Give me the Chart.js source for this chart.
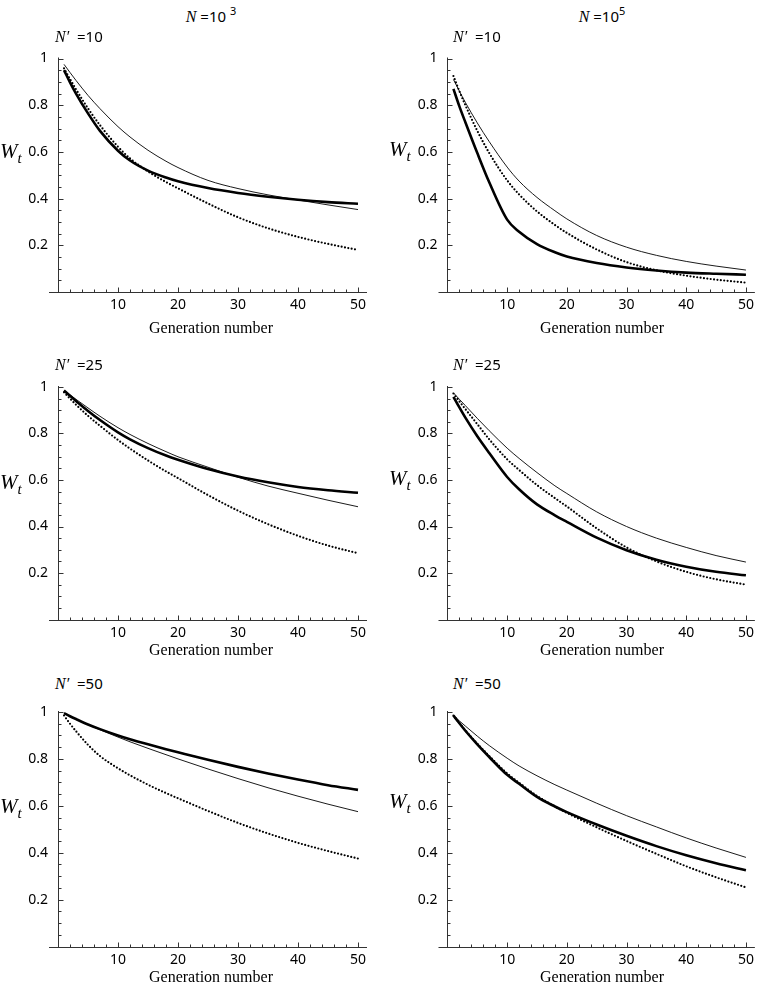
<!DOCTYPE html>
<html lang="en">
<head>
<meta charset="UTF-8">
<title>W_t by generation</title>
<style>
  body { margin: 0; background: #fff; font-family: "Noto Sans", sans-serif; }
  #page { position: relative; width: 759px; height: 989px; overflow: hidden; }
  canvas { position: absolute; }
  .lbl { position: absolute; white-space: nowrap; color: #000; z-index: 2; }
  .gen { font-family: "Liberation Serif", serif; font-size: 16px; transform: translate(-50%, -50%); }
  .np { font-size: 15px; transform: translateY(-50%); }
  .it { font-family: "Liberation Serif", serif; font-style: italic; font-size: 16px; }
  .wt { font-family: "Liberation Serif", serif; font-style: italic; font-size: 21px; transform: translateY(-50%); }
  .wt sub { font-size: 15px; vertical-align: -5px; }
  .head { font-size: 15px; transform: translate(-50%, -50%); }
  .head sup { font-size: 11px; vertical-align: 7px; }
</style>
<script src="https://cdn.jsdelivr.net/npm/chart.js"></script>
</head>
<body>
<div id="page">
  <div class="lbl head" style="left:211px; top:14px;"><span class="it">N</span> =10 <sup>3</sup></div>
  <div class="lbl head" style="left:602px; top:14px;"><span class="it">N</span> =10<sup>5</sup></div>

  <div class="lbl np" style="left:55px; top:36px;"><span class="it">N′</span>&nbsp;&nbsp;=10</div>
  <div class="lbl np" style="left:453px; top:36px;"><span class="it">N′</span>&nbsp;&nbsp;=10</div>
  <div class="lbl np" style="left:55px; top:364px;"><span class="it">N′</span>&nbsp;&nbsp;=25</div>
  <div class="lbl np" style="left:453px; top:364px;"><span class="it">N′</span>&nbsp;&nbsp;=25</div>
  <div class="lbl np" style="left:55px; top:683px;"><span class="it">N′</span>&nbsp;&nbsp;=50</div>
  <div class="lbl np" style="left:453px; top:683px;"><span class="it">N′</span>&nbsp;&nbsp;=50</div>

  <div class="lbl wt" style="left:0px; top:153px;">W<sub>t</sub></div>
  <div class="lbl wt" style="left:389px; top:151px;">W<sub>t</sub></div>
  <div class="lbl wt" style="left:0px; top:484px;">W<sub>t</sub></div>
  <div class="lbl wt" style="left:389px; top:480px;">W<sub>t</sub></div>
  <div class="lbl wt" style="left:0px; top:808px;">W<sub>t</sub></div>
  <div class="lbl wt" style="left:389px; top:803px;">W<sub>t</sub></div>

  <div class="lbl gen" style="left:211px; top:328px;">Generation number</div>
  <div class="lbl gen" style="left:602px; top:328px;">Generation number</div>
  <div class="lbl gen" style="left:211px; top:650px;">Generation number</div>
  <div class="lbl gen" style="left:602px; top:650px;">Generation number</div>
  <div class="lbl gen" style="left:211px; top:977px;">Generation number</div>
  <div class="lbl gen" style="left:602px; top:977px;">Generation number</div>
</div>

<script>
  // x values shared by every curve
  const generations = [1, 2, 3, 5, 7, 10, 12, 15, 18, 20, 25, 30, 35, 40, 45, 50];
  const xTicks = [10, 20, 30, 40, 50];
  const yTicks = [0.2, 0.4, 0.6, 0.8, 1];

  // N = 10^3, N' = 10
  const n3_10_thick  = [0.95, 0.898, 0.85, 0.765, 0.69, 0.605, 0.563, 0.52, 0.49, 0.474, 0.445, 0.424, 0.408, 0.395, 0.385, 0.378];
  const n3_10_thin   = [0.975, 0.94, 0.906, 0.842, 0.785, 0.708, 0.664, 0.607, 0.56, 0.533, 0.478, 0.443, 0.416, 0.394, 0.373, 0.353];
  const n3_10_dotted = [0.958, 0.912, 0.868, 0.786, 0.714, 0.622, 0.572, 0.516, 0.471, 0.444, 0.379, 0.32, 0.273, 0.236, 0.206, 0.18];
  // N = 10^5, N' = 10
  const n5_10_thick  = [0.87, 0.795, 0.727, 0.595, 0.47, 0.31, 0.258, 0.205, 0.17, 0.152, 0.124, 0.105, 0.092, 0.083, 0.078, 0.074];
  const n5_10_thin   = [0.91, 0.86, 0.812, 0.724, 0.644, 0.535, 0.475, 0.405, 0.348, 0.313, 0.242, 0.192, 0.157, 0.131, 0.111, 0.094];
  const n5_10_dotted = [0.925, 0.86, 0.80, 0.69, 0.595, 0.478, 0.418, 0.345, 0.287, 0.253, 0.182, 0.128, 0.093, 0.07, 0.053, 0.04];
  // N = 10^3, N' = 25
  const n3_25_thick  = [0.985, 0.962, 0.94, 0.897, 0.858, 0.805, 0.775, 0.737, 0.705, 0.687, 0.647, 0.615, 0.59, 0.57, 0.556, 0.545];
  const n3_25_thin   = [0.985, 0.966, 0.947, 0.91, 0.874, 0.825, 0.796, 0.757, 0.722, 0.70, 0.655, 0.612, 0.574, 0.543, 0.513, 0.485];
  const n3_25_dotted = [0.977, 0.95, 0.924, 0.876, 0.833, 0.772, 0.735, 0.684, 0.637, 0.608, 0.535, 0.468, 0.41, 0.36, 0.318, 0.285];
  // N = 10^5, N' = 25
  const n5_25_thick  = [0.958, 0.912, 0.868, 0.788, 0.716, 0.613, 0.56, 0.495, 0.448, 0.42, 0.352, 0.298, 0.257, 0.227, 0.205, 0.19];
  const n5_25_thin   = [0.975, 0.947, 0.92, 0.865, 0.812, 0.737, 0.693, 0.632, 0.575, 0.542, 0.463, 0.40, 0.35, 0.31, 0.275, 0.247];
  const n5_25_dotted = [0.972, 0.938, 0.905, 0.84, 0.775, 0.689, 0.643, 0.578, 0.522, 0.486, 0.392, 0.31, 0.25, 0.205, 0.173, 0.15];
  // N = 10^3, N' = 50
  const n3_50_thick  = [0.995, 0.982, 0.97, 0.947, 0.927, 0.90, 0.884, 0.862, 0.841, 0.828, 0.796, 0.766, 0.738, 0.712, 0.688, 0.668];
  const n3_50_thin   = [0.995, 0.982, 0.97, 0.946, 0.924, 0.893, 0.873, 0.845, 0.818, 0.80, 0.757, 0.716, 0.677, 0.641, 0.607, 0.575];
  const n3_50_dotted = [0.985, 0.95, 0.918, 0.86, 0.812, 0.76, 0.73, 0.69, 0.654, 0.632, 0.578, 0.527, 0.482, 0.442, 0.407, 0.375];
  // N = 10^5, N' = 50
  const n5_50_thick  = [0.985, 0.952, 0.92, 0.862, 0.808, 0.732, 0.694, 0.638, 0.597, 0.573, 0.52, 0.472, 0.428, 0.389, 0.355, 0.325];
  const n5_50_thin   = [0.985, 0.962, 0.94, 0.897, 0.857, 0.803, 0.77, 0.728, 0.69, 0.667, 0.611, 0.558, 0.51, 0.463, 0.42, 0.38];
  const n5_50_dotted = [0.985, 0.953, 0.922, 0.865, 0.812, 0.738, 0.698, 0.642, 0.597, 0.57, 0.508, 0.45, 0.395, 0.342, 0.295, 0.252];

  // canvas placement; chart area is pinned with afterFit + layout padding
  const cols = [
    { x: 0,   w: 380, yAxisW: 49,   padRight: 13 },
    { x: 380, w: 379, yAxisW: 58.5, padRight: 2 }
  ];
  const rows = [
    { y: 40,  h: 290, padTop: 18.5, xAxisH: 38 },
    { y: 370, h: 280, padTop: 17,   xAxisH: 30.5 },
    { y: 695, h: 280, padTop: 17,   xAxisH: 28.5 }
  ];

  const panels = [
    { col: 0, row: 0, thick: n3_10_thick, thin: n3_10_thin, dotted: n3_10_dotted },
    { col: 1, row: 0, thick: n5_10_thick, thin: n5_10_thin, dotted: n5_10_dotted },
    { col: 0, row: 1, thick: n3_25_thick, thin: n3_25_thin, dotted: n3_25_dotted },
    { col: 1, row: 1, thick: n5_25_thick, thin: n5_25_thin, dotted: n5_25_dotted },
    { col: 0, row: 2, thick: n3_50_thick, thin: n3_50_thin, dotted: n3_50_dotted },
    { col: 1, row: 2, thick: n5_50_thick, thin: n5_50_thin, dotted: n5_50_dotted }
  ];

  // axes crossing at the origin with inward ticks, Mathematica style
  const axesPlugin = {
    id: 'originAxes',
    afterDatasetsDraw(chart) {
      const { ctx, scales: { x, y } } = chart;
      const x0 = Math.round(x.getPixelForValue(0)) + 0.5;
      const y0 = Math.round(y.getPixelForValue(0)) + 0.5;
      ctx.save();
      ctx.strokeStyle = '#333';
      ctx.lineWidth = 1;
      ctx.beginPath();
      ctx.moveTo(x.left, y0); ctx.lineTo(x.right, y0);
      ctx.moveTo(x0, y0); ctx.lineTo(x0, y.getPixelForValue(1) - 1);
      for (let t = 2; t <= 50; t += 2) {
        const px = Math.round(x.getPixelForValue(t)) + 0.5;
        ctx.moveTo(px, y0); ctx.lineTo(px, y0 - (t % 10 === 0 ? 5 : 3));
      }
      for (let k = 1; k <= 20; k++) {
        const py = Math.round(y.getPixelForValue(k * 0.05)) + 0.5;
        ctx.moveTo(x0, py); ctx.lineTo(x0 + (k % 4 === 0 ? 5 : 3), py);
      }
      ctx.stroke();
      ctx.restore();
    }
  };

  const tickFont = { family: 'Noto Sans', size: 14 };
  const toPoints = vals => generations.map((g, i) => ({ x: g, y: vals[i] }));
  const page = document.getElementById('page');

  panels.forEach(p => {
    const c = cols[p.col], r = rows[p.row];
    const cv = document.createElement('canvas');
    cv.width = c.w; cv.height = r.h;
    cv.style.left = c.x + 'px';
    cv.style.top = r.y + 'px';
    page.insertBefore(cv, page.firstChild);

    new Chart(cv, {
      type: 'line',
      data: {
        datasets: [
          { data: toPoints(p.thick), borderWidth: 2.6 },
          { data: toPoints(p.thin), borderWidth: 0.9 },
          { data: toPoints(p.dotted), borderWidth: 2.2, borderDash: [0, 3.4], borderCapStyle: 'round' }
        ]
      },
      options: {
        responsive: false,
        animation: false,
        devicePixelRatio: 1,
        layout: { padding: { top: r.padTop, right: c.padRight, left: 0, bottom: 0 } },
        plugins: { legend: { display: false }, tooltip: { enabled: false } },
        elements: {
          point: { radius: 0 },
          line: { borderColor: '#000', cubicInterpolationMode: 'monotone', fill: false }
        },
        scales: {
          x: {
            type: 'linear', min: -1.5, max: 51.5,
            grid: { display: false, drawTicks: false },
            border: { display: false },
            afterBuildTicks: s => { s.ticks = xTicks.map(v => ({ value: v })); },
            afterFit: s => { s.height = r.xAxisH; },
            ticks: { padding: 5, color: '#000', font: tickFont, maxRotation: 0, callback: v => String(v) }
          },
          y: {
            type: 'linear', min: 0, max: 1,
            grid: { display: false, drawTicks: false },
            border: { display: false },
            afterBuildTicks: s => { s.ticks = yTicks.map(v => ({ value: v })); },
            afterFit: s => { s.width = c.yAxisW; },
            ticks: { padding: 1, color: '#000', font: tickFont, callback: v => String(v) }
          }
        }
      },
      plugins: [axesPlugin]
    });
  });
</script>
</body>
</html>
